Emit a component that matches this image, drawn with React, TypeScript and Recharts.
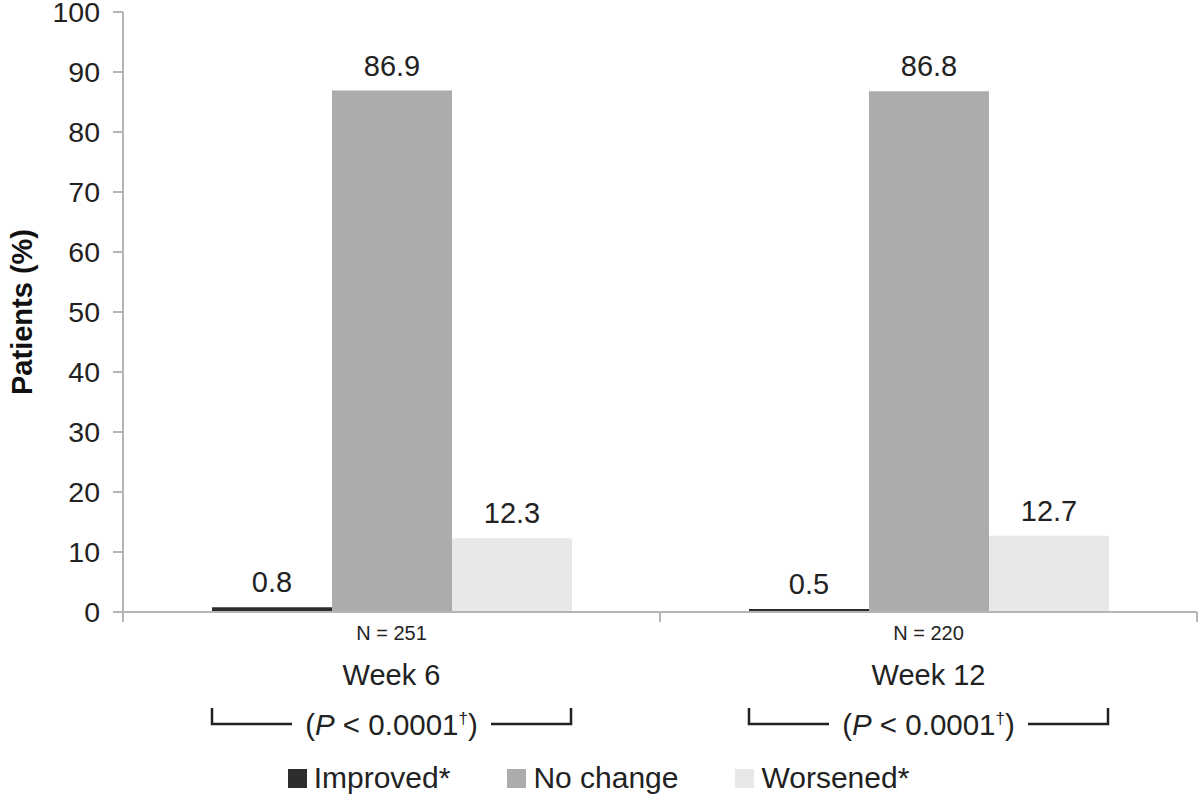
import { Bar, BarChart, LabelList, Legend, XAxis, YAxis } from "recharts";

const weeks = ["Week 6", "Week 12"];
const sampleSizes = ["N = 251", "N = 220"];
const pValues = ["0.0001", "0.0001"];
const improved = [0.8, 0.5];
const noChange = [86.9, 86.8];
const worsened = [12.3, 12.7];
const yTicks = [0, 10, 20, 30, 40, 50, 60, 70, 80, 90, 100];

const seriesNames = ["Improved*", "No change", "Worsened*"];
const seriesColors = ["#2d2d2d", "#acacac", "#e8e8e8"];

const FONT = "'Liberation Sans', Arial, Helvetica, sans-serif";
const AXIS = "#b5b5b5";
const INK = "#222";
const CAT_GAP = 89; // px between category edge and first bar

const data = weeks.map((week, i) => ({
  week,
  n: sampleSizes[i],
  p: pValues[i],
  improved: improved[i],
  noChange: noChange[i],
  worsened: worsened[i],
}));

// tick below the x axis: boundary marks, N, week name and the P bracket
function WeekTick(props: any) {
  const { x, y, payload, index, width } = props;
  const half = width / weeks.length / 2;
  const left = x - half + CAT_GAP;
  const right = x + half - CAT_GAP;
  const row = data[index] ?? data[0];
  const by = y + 112;
  return (
    <g fontFamily={FONT} fill={INK}>
      <line x1={x - half} x2={x - half} y1={y} y2={y + 10} stroke={AXIS} strokeWidth={2} />
      <line x1={x + half} x2={x + half} y1={y} y2={y + 10} stroke={AXIS} strokeWidth={2} />
      <text x={x} y={y + 28} textAnchor="middle" fontSize={20}>
        {row.n}
      </text>
      <text x={x} y={y + 73} textAnchor="middle" fontSize={29}>
        {payload.value}
      </text>
      <polyline
        points={`${left},${by - 16} ${left},${by} ${left + 80},${by}`}
        fill="none"
        stroke={INK}
        strokeWidth={2.5}
      />
      <polyline
        points={`${right - 80},${by} ${right},${by} ${right},${by - 16}`}
        fill="none"
        stroke={INK}
        strokeWidth={2.5}
      />
      <text x={x} y={by + 11} textAnchor="middle" fontSize={29.5}>
        (<tspan fontStyle="italic">P</tspan> &lt; {row.p}
        <tspan fontSize={17} dy={-11}>†</tspan>
        <tspan dy={11}>)</tspan>
      </text>
    </g>
  );
}

function YTitle(props: any) {
  const { viewBox } = props;
  const cx = viewBox.x + 32;
  const cy = viewBox.y + viewBox.height / 2;
  return (
    <text
      x={cx}
      y={cy}
      transform={`rotate(-90 ${cx} ${cy})`}
      textAnchor="middle"
      fontFamily={FONT}
      fontWeight="bold"
      fontSize={29}
      fill="#111"
    >
      Patients (%)
    </text>
  );
}

function LegendBox() {
  return (
    <div
      style={{
        height: 36,
        display: "flex",
        justifyContent: "center",
        alignItems: "center",
        gap: 57,
        fontFamily: FONT,
        fontSize: 30,
        lineHeight: 1,
        color: INK,
      }}
    >
      {seriesNames.map((name, i) => (
        <div key={name} style={{ display: "flex", alignItems: "center", gap: 7 }}>
          <span style={{ width: 19, height: 19, background: seriesColors[i], display: "inline-block" }} />
          <span>{name}</span>
        </div>
      ))}
    </div>
  );
}

export default function App() {
  const keys = ["improved", "noChange", "worsened"];
  return (
    <div style={{ position: "absolute", left: 0, top: 0, width: 1200, height: 798, background: "#fff" }}>
      <BarChart
        width={1200}
        height={798}
        data={data}
        margin={{ top: 12, right: 3, left: 0, bottom: 2 }}
        barCategoryGap={CAT_GAP}
        barGap={0}
      >
        <YAxis
          width={123}
          domain={[0, 100]}
          ticks={yTicks}
          interval={0}
          tickSize={10}
          tickMargin={13}
          axisLine={{ stroke: AXIS, strokeWidth: 2 }}
          tickLine={{ stroke: AXIS, strokeWidth: 2 }}
          tick={{ fontSize: 28.5, fill: INK, fontFamily: FONT }}
          label={<YTitle />}
        />
        <XAxis
          dataKey="week"
          height={148}
          interval={0}
          tickSize={0}
          tickMargin={0}
          tickLine={false}
          axisLine={{ stroke: AXIS, strokeWidth: 2 }}
          tick={<WeekTick />}
        />
        <Legend verticalAlign="bottom" height={36} content={<LegendBox />} />
        {keys.map((k, i) => (
          <Bar key={k} dataKey={k} name={seriesNames[i]} fill={seriesColors[i]} isAnimationActive={false}>
            <LabelList
              dataKey={k}
              position="top"
              offset={15}
              fontSize={29}
              fill={INK}
              fontFamily={FONT}
              formatter={(v: any) => Number(v).toFixed(1)}
            />
          </Bar>
        ))}
      </BarChart>
    </div>
  );
}
